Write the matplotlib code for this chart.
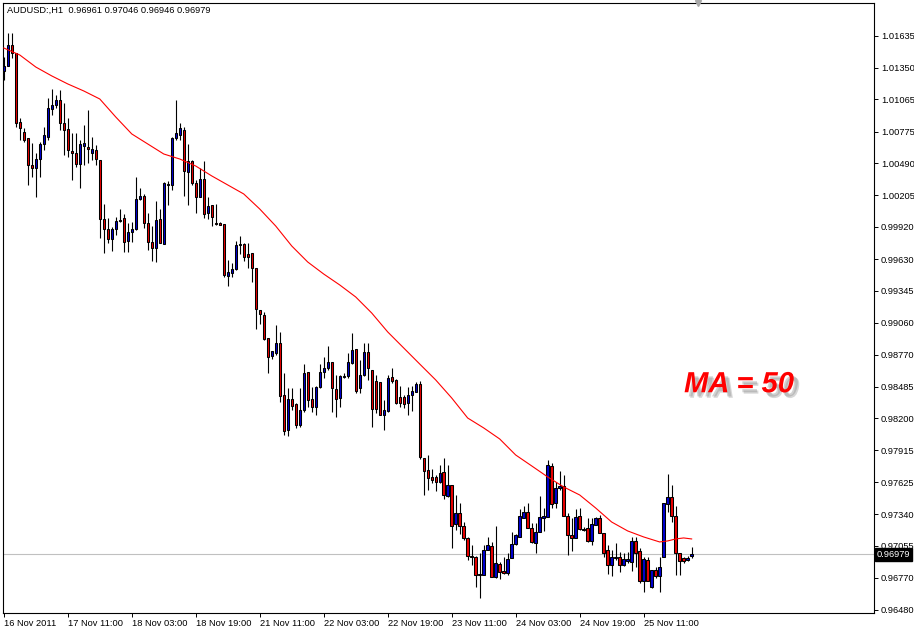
import matplotlib
matplotlib.use('Agg')
import matplotlib.pyplot as plt
from matplotlib.patches import Rectangle
import matplotlib.patheffects as pe

plt.rcParams['font.family'] = ['Liberation Sans', 'DejaVu Sans']

title_text = "AUDUSD:,H1  0.96961 0.97046 0.96946 0.96979"

opens = [1.01320, 1.01365, 1.01554, 1.01482, 1.00862, 1.00773, 1.00719, 1.00476, 1.00449, 1.00530,
         1.00665, 1.00728, 1.00979, 1.01015, 1.01060, 1.00853, 1.00800, 1.00602, 1.00584, 1.00485,
         1.00647, 1.00638, 1.00584, 1.00611, 1.00521, 0.99991, 0.99902, 0.99812, 0.99902, 0.99973,
         1.00000, 0.99794, 0.99875, 0.99902, 1.00171, 1.00198, 0.99955, 0.99785, 0.99731, 0.99991,
         0.99767, 1.00297, 1.00297, 1.00719, 1.00746, 1.00791, 1.00413, 1.00512, 1.00315, 1.00189,
         1.00351, 1.00045, 1.00117, 0.99955, 0.99955, 0.99946, 0.99480, 0.99506, 0.99542, 0.99758,
         0.99767, 0.99677, 0.99686, 0.99551, 0.99174, 0.99129, 0.98923, 0.98761, 0.98788, 0.98878,
         0.98411, 0.98097, 0.98375, 0.98330, 0.98142, 0.98276, 0.98618, 0.98375, 0.98303, 0.98483,
         0.98618, 0.98653, 0.98707, 0.98465, 0.98384, 0.98573, 0.98582, 0.98698, 0.98824, 0.98474,
         0.98591, 0.98797, 0.98636, 0.98537, 0.98528, 0.98231, 0.98267, 0.98573, 0.98546, 0.98393,
         0.98393, 0.98339, 0.98411, 0.98438, 0.98510, 0.97845, 0.97738, 0.97675, 0.97675, 0.97630,
         0.97720, 0.97504, 0.97603, 0.97252, 0.97351, 0.97234, 0.97127, 0.96965, 0.96956, 0.96804,
         0.96795, 0.97019, 0.97055, 0.96777, 0.96894, 0.96831, 0.96813, 0.96947, 0.97073, 0.97136,
         0.97306, 0.97360, 0.97216, 0.97082, 0.97181, 0.97306, 0.97315, 0.97774, 0.97441, 0.97576,
         0.97594, 0.97324, 0.97154, 0.97127, 0.97324, 0.97207, 0.97216, 0.97100, 0.97243, 0.97306,
         0.97172, 0.97019, 0.96885, 0.96956, 0.96956, 0.96885, 0.96921, 0.96912, 0.97100, 0.97010,
         0.96741, 0.96930, 0.96687, 0.96840, 0.96786, 0.96956, 0.97432, 0.97495, 0.97324, 0.96992,
         0.96947, 0.96930, 0.96961]

highs = [1.01446, 1.01662, 1.01662, 1.01482, 1.00898, 1.00809, 1.00719, 1.00674, 1.00584, 1.00683,
         1.00818, 1.01078, 1.01159, 1.01105, 1.01150, 1.01033, 1.00898, 1.00764, 1.00764, 1.00701,
         1.00836, 1.00970, 1.00728, 1.00656, 1.00521, 1.00126, 1.00000, 0.99920, 1.00009, 1.00081,
         1.00036, 0.99955, 0.99964, 1.00369, 1.00270, 1.00216, 1.00045, 0.99928, 1.00153, 1.00081,
         1.00324, 1.00333, 1.00728, 1.01060, 1.00853, 1.00818, 1.00665, 1.00521, 1.00342, 1.00449,
         1.00512, 1.00189, 1.00117, 1.00126, 0.99964, 0.99946, 0.99623, 0.99596, 0.99794, 0.99839,
         0.99776, 0.99776, 0.99686, 0.99551, 0.99174, 0.99156, 0.98923, 0.98806, 0.99039, 0.98977,
         0.98609, 0.98474, 0.98474, 0.98339, 0.98474, 0.98689, 0.98618, 0.98483, 0.98492, 0.98689,
         0.98752, 0.98851, 0.98707, 0.98591, 0.98591, 0.98609, 0.98788, 0.98968, 0.98824, 0.98725,
         0.98878, 0.98878, 0.98636, 0.98591, 0.98528, 0.98366, 0.98591, 0.98653, 0.98555, 0.98492,
         0.98411, 0.98483, 0.98492, 0.98528, 0.98537, 0.97845, 0.97872, 0.97747, 0.97693, 0.97783,
         0.97845, 0.97783, 0.97603, 0.97513, 0.97441, 0.97270, 0.97136, 0.97064, 0.96965, 0.96992,
         0.97064, 0.97136, 0.97091, 0.97234, 0.96912, 0.96956, 0.96992, 0.97181, 0.97163, 0.97387,
         0.97414, 0.97441, 0.97261, 0.97261, 0.97504, 0.97396, 0.97828, 0.97801, 0.97630, 0.97729,
         0.97693, 0.97351, 0.97306, 0.97387, 0.97396, 0.97225, 0.97306, 0.97306, 0.97315, 0.97333,
         0.97172, 0.97064, 0.97019, 0.97082, 0.97001, 0.96992, 0.97001, 0.97136, 0.97136, 0.97037,
         0.96956, 0.96956, 0.96840, 0.96866, 0.96956, 0.97441, 0.97702, 0.97603, 0.97414, 0.96992,
         0.96956, 0.96965, 0.97046]

lows = [1.01240, 1.01365, 1.01437, 1.00818, 1.00701, 1.00683, 1.00297, 1.00369, 1.00189, 1.00369,
        1.00611, 1.00701, 1.00925, 1.00988, 1.00791, 1.00566, 1.00548, 1.00342, 1.00458, 1.00270,
        1.00476, 1.00494, 1.00521, 1.00476, 0.99821, 0.99686, 0.99776, 0.99704, 0.99848, 0.99964,
        0.99695, 0.99695, 0.99785, 0.99893, 1.00162, 0.99911, 0.99713, 0.99614, 0.99605, 0.99776,
        0.99767, 1.00117, 1.00252, 1.00701, 1.00701, 1.00198, 1.00117, 1.00297, 1.00045, 1.00189,
        1.00000, 0.99991, 0.99928, 0.99937, 0.99937, 0.99471, 0.99390, 0.99471, 0.99533, 0.99677,
        0.99614, 0.99551, 0.99426, 0.99003, 0.99048, 0.98905, 0.98609, 0.98734, 0.98770, 0.98348,
        0.98052, 0.98043, 0.98276, 0.98115, 0.98124, 0.98258, 0.98303, 0.98258, 0.98231, 0.98474,
        0.98564, 0.98636, 0.98258, 0.98213, 0.98303, 0.98564, 0.98564, 0.98689, 0.98429, 0.98429,
        0.98582, 0.98546, 0.98124, 0.98249, 0.98231, 0.98097, 0.98258, 0.98519, 0.98330, 0.98303,
        0.98294, 0.98231, 0.98267, 0.98438, 0.97836, 0.97513, 0.97558, 0.97621, 0.97549, 0.97621,
        0.97477, 0.97495, 0.97037, 0.97198, 0.97163, 0.97109, 0.96930, 0.96885, 0.96687, 0.96588,
        0.96795, 0.97019, 0.96777, 0.96768, 0.96759, 0.96804, 0.96795, 0.96947, 0.97064, 0.97136,
        0.97306, 0.97216, 0.97082, 0.96992, 0.97181, 0.97190, 0.97315, 0.97396, 0.97396, 0.97558,
        0.97324, 0.96974, 0.97010, 0.97127, 0.97198, 0.97190, 0.97091, 0.97064, 0.97243, 0.97172,
        0.96956, 0.96804, 0.96786, 0.96930, 0.96822, 0.96876, 0.96903, 0.96831, 0.96866, 0.96723,
        0.96642, 0.96741, 0.96678, 0.96768, 0.96642, 0.96956, 0.97360, 0.97270, 0.96795, 0.96795,
        0.96903, 0.96921, 0.96946]

closes = [1.01365, 1.01554, 1.01482, 1.00853, 1.00809, 1.00701, 1.00476, 1.00449, 1.00530, 1.00665,
          1.00746, 1.00988, 1.01015, 1.01060, 1.00853, 1.00791, 1.00611, 1.00584, 1.00485, 1.00665,
          1.00674, 1.00620, 1.00620, 1.00530, 0.99991, 0.99902, 0.99812, 0.99902, 0.99973, 0.99982,
          0.99785, 0.99875, 0.99902, 1.00171, 1.00198, 0.99955, 0.99785, 0.99731, 0.99982, 0.99776,
          1.00315, 1.00306, 1.00719, 1.00764, 1.00809, 1.00422, 1.00512, 1.00315, 1.00189, 1.00351,
          1.00036, 1.00108, 1.00009, 0.99946, 0.99937, 0.99489, 0.99515, 0.99542, 0.99758, 0.99767,
          0.99650, 0.99650, 0.99551, 0.99183, 0.99138, 0.98914, 0.98752, 0.98806, 0.98878, 0.98402,
          0.98088, 0.98375, 0.98312, 0.98142, 0.98276, 0.98609, 0.98366, 0.98303, 0.98483, 0.98618,
          0.98653, 0.98707, 0.98474, 0.98375, 0.98582, 0.98582, 0.98707, 0.98815, 0.98447, 0.98591,
          0.98797, 0.98653, 0.98285, 0.98285, 0.98231, 0.98276, 0.98564, 0.98537, 0.98339, 0.98339,
          0.98330, 0.98411, 0.98447, 0.98510, 0.97854, 0.97729, 0.97666, 0.97648, 0.97630, 0.97711,
          0.97513, 0.97603, 0.97234, 0.97351, 0.97234, 0.97127, 0.96965, 0.96956, 0.96795, 0.96795,
          0.97019, 0.97064, 0.96777, 0.96903, 0.96822, 0.96813, 0.96938, 0.97073, 0.97154, 0.97324,
          0.97360, 0.97216, 0.97091, 0.97181, 0.97315, 0.97324, 0.97783, 0.97432, 0.97576, 0.97594,
          0.97324, 0.97154, 0.97127, 0.97315, 0.97207, 0.97198, 0.97100, 0.97252, 0.97306, 0.97172,
          0.96992, 0.96885, 0.96956, 0.96947, 0.96885, 0.96938, 0.96938, 0.97100, 0.96992, 0.96741,
          0.96938, 0.96741, 0.96840, 0.96786, 0.96866, 0.97441, 0.97495, 0.97324, 0.96992, 0.96921,
          0.96921, 0.96947, 0.96979]

ma_bars = [0, 4, 8, 12, 16, 20, 24, 28, 32, 36, 40, 44, 48, 52, 56, 60, 64, 68, 72, 76,
           80, 84, 88, 92, 96, 100, 104, 108, 112, 116, 120, 124, 128, 132, 136, 140, 144,
           148, 152, 156, 160, 164, 166, 168, 170, 172]
ma_values = [1.01527, 1.01464, 1.01356, 1.01276, 1.01204, 1.01141, 1.01069, 1.00907, 1.00755,
             1.00665, 1.00575, 1.00530, 1.00467, 1.00378, 1.00297, 1.00216, 1.00081, 0.99928,
             0.99749, 0.99605, 0.99497, 0.99399, 0.99291, 0.99147, 0.98977, 0.98833, 0.98689,
             0.98546, 0.98384, 0.98204, 0.98115, 0.98016, 0.97872, 0.97774, 0.97675, 0.97585,
             0.97513, 0.97396, 0.97270, 0.97190, 0.97136, 0.97091, 0.97100, 0.97118, 0.97127,
             0.97118]

date_tick_bars = [0, 16, 32, 48, 64, 80, 96, 112, 128, 144, 160]
date_tick_labels = ["16 Nov 2011", "17 Nov 11:00", "18 Nov 03:00", "18 Nov 19:00", "21 Nov 11:00",
                    "22 Nov 03:00", "22 Nov 19:00", "23 Nov 11:00", "24 Nov 03:00", "24 Nov 19:00",
                    "25 Nov 11:00"]
price_ticks = [1.01635, 1.01350, 1.01065, 1.00775, 1.00490, 1.00205, 0.99920, 0.99630, 0.99345,
               0.99060, 0.98770, 0.98485, 0.98200, 0.97915, 0.97625, 0.97340, 0.97055, 0.96770,
               0.96480]
last_price = 0.96979

W, H = 914, 631
fig = plt.figure(figsize=(W / 100, H / 100), dpi=100)
fig.patch.set_facecolor('white')
ax = fig.add_axes([3 / W, 18 / H, 871 / W, 610 / H])
ax.set_facecolor('white')
ax.set_xlim(-0.2, 217.6)
ax.set_ylim(0.96453, 1.01931)

ax.axhline(last_price, color='#c0c0c0', lw=0.8, zorder=1)

body_w = 0.6
for i, (o, h, l, c) in enumerate(zip(opens, highs, lows, closes)):
    ax.vlines(i, min(l, o, c), max(h, o, c), color='black', lw=0.8, zorder=2)
    if c == o:
        ax.hlines(o, i - body_w / 2, i + body_w / 2, color='black', lw=0.9, zorder=3)
    else:
        fc = '#0000d0' if c > o else '#e80000'
        ax.add_patch(Rectangle((i - body_w / 2, min(o, c)), body_w, abs(c - o),
                               facecolor=fc, edgecolor='black', lw=0.75, zorder=3))

ax.plot(ma_bars, ma_values, color='#ff0000', lw=0.8, zorder=4)

for s in ax.spines.values():
    s.set_color('black')
    s.set_linewidth(0.8)

ax.yaxis.tick_right()
ax.set_yticks(price_ticks)
ax.set_yticklabels([f"{v:.5f}" for v in price_ticks])
ax.tick_params(axis='y', direction='out', length=3, width=0.7, pad=2, labelsize=6.7,
               colors='black')
ax.set_xticks(date_tick_bars)
ax.set_xticklabels(date_tick_labels)
ax.tick_params(axis='x', direction='out', length=3, width=0.7, pad=1.5, labelsize=6.7,
               colors='black')
for lbl in ax.get_xticklabels():
    lbl.set_horizontalalignment('left')

fig.text(7 / W, 1 - 10 / H, title_text, ha='left', va='center', fontsize=6.7, color='black')

ax.text(1.0 + 3 / 871, last_price, f"{last_price:.5f}", transform=ax.get_yaxis_transform(),
        ha='left', va='center', fontsize=6.7, color='white', clip_on=False, zorder=6,
        bbox=dict(boxstyle='square,pad=0.2', fc='black', ec='black'))

ax.plot([0.798], [1.0], marker='v', color='#a8a8a8', markersize=5, transform=ax.transAxes,
        clip_on=False, zorder=6)

ax.text(0.845, 0.375, "MA = 50", transform=ax.transAxes, ha='center', va='center',
        fontsize=21, fontweight='bold', fontstyle='italic', color='#ff0000', zorder=7,
        path_effects=[pe.SimplePatchShadow(offset=(4, -4), shadow_rgbFace='#b0b0b0', alpha=0.5),
                      pe.SimplePatchShadow(offset=(3, -3), shadow_rgbFace='#909090', alpha=0.4),
                      pe.Normal()])

fig.savefig('out.png', dpi=100, facecolor='white')
